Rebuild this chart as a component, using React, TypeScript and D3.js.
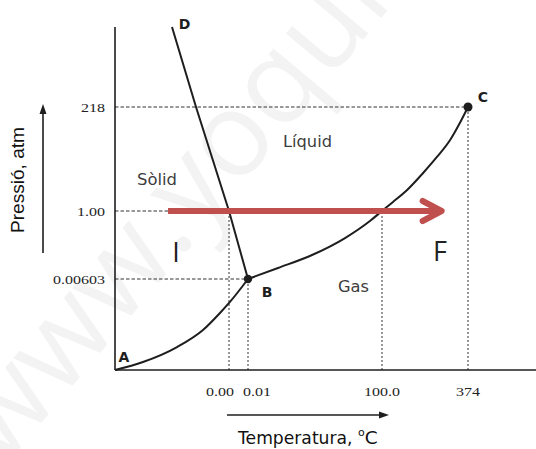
import * as d3 from 'd3';

// Schematic phase diagram of water. Axes are not to scale: each tick gets its
// own segment, so the scales are piecewise linear.
const TEMP_DOMAIN = [-273, 0, 0.01, 100, 374, 500];
const PRES_DOMAIN = [0, 0.00603, 1, 218, 400];

const TEMP_TICKS = [0, 0.01, 100, 374];
const TEMP_LABELS = ['0.00', '0.01', '100.0', '374'];
const PRES_TICKS = [218, 1, 0.00603];
const PRES_LABELS = ['218', '1.00', '0.00603'];

// A -> B (sòlid / gas)
const SUB_T = [-273, -206, -124.5, -62.3, -21.6, 0.0005, 0.01];
const SUB_P = [0, 0.00053, 0.00152, 0.00265, 0.00378, 0.00451, 0.00603];
// B -> C (líquid / gas)
const VAP_T = [0.01, 22.4, 47.8, 72.4, 91, 100, 135, 180, 231, 275, 317, 348, 374];
const VAP_P = [0.00603, 0.167, 0.357, 0.605, 0.854, 1, 19.8, 44.8, 80.3, 113.7, 149.1, 184.6, 218];
// B -> D (sòlid / líquid)
const FUS_T = [0.01, 0, -79, -136.5];
const FUS_P = [0.00603, 1, 218, 400];

const POINT_NAMES = ['A', 'B', 'C', 'D'];
const POINT_T = [-273, 0.01, 374, -136.5];
const POINT_P = [0, 0.00603, 218, 400];

// heating path at 1 atm, from I to F
const PATH_T = [-146, 290];
const PATH_P = 1;

const W = 536;
const H = 449;
const RED = '#C0504D';
const INK = '#1e1e1e';

type Pt = [number, number];

// the scan is a bit wide, so text gets stretched to its measured width
const numWidth = (s: string) => s.replace(/\./g, '').length * 8 + (s.includes('.') ? 4 : 0);

export default function App() {
  const x = d3.scaleLinear().domain(TEMP_DOMAIN).range([115, 229, 248, 382, 468, 536]);
  const y = d3.scaleLinear().domain(PRES_DOMAIN).range([370, 279, 211, 107, 27]);

  const toPts = (ts: number[], ps: number[]): Pt[] => ts.map((t, i) => [x(t), y(ps[i])]);
  const smooth = d3.line<Pt>().curve(d3.curveMonotoneX);
  const straight = d3.line<Pt>();

  // reference lines: each tick runs to where it meets a curve
  const vEnds = [1, 0.00603, 1, 218];
  const hEnds = [374, 100, 0.01];

  const ax = x(PATH_T[0]);
  const bx = x(PATH_T[1]);
  const ay = y(PATH_P);

  const offs: Record<string, Pt> = { A: [9, -8], B: [19, 18], C: [15, -5], D: [12.5, 2] };

  return (
    <svg width={W} height={H} style={{ position: 'absolute', left: 0, top: 0, background: '#fff' }}>
      {/* faint watermark */}
      <text
        x={0} y={0}
        transform="translate(2,470) rotate(-50)"
        fontFamily="'Open Sans', sans-serif" fontSize={118} fill="#f3f3f3"
      >www.yoquiero</text>

      {/* dashed guides */}
      {TEMP_TICKS.map((t, i) => (
        <line key={'v' + i} x1={x(t)} x2={x(t)} y1={y(0)} y2={y(vEnds[i])}
          stroke="#333" strokeWidth={1} strokeDasharray="2,2" />
      ))}
      {PRES_TICKS.map((p, i) => (
        <line key={'h' + i} x1={x(-273)} x2={x(hEnds[i])} y1={y(p)} y2={y(p)}
          stroke="#333" strokeWidth={1} strokeDasharray="3.5,2" />
      ))}

      {/* axes */}
      <line x1={x(-273)} x2={x(-273)} y1={y(0)} y2={y(400)} stroke={INK} strokeWidth={1.6} />
      <line x1={x(-273)} x2={x(500)} y1={y(0)} y2={y(0)} stroke={INK} strokeWidth={1.6} />

      {/* tick labels */}
      {PRES_TICKS.map((p, i) => (
        <text key={'pl' + i} x={105} y={y(p) + 4.5} textAnchor="end"
          textLength={numWidth(PRES_LABELS[i])} lengthAdjust="spacingAndGlyphs"
          fontFamily="'Liberation Serif', serif" fontSize={13} fill="#222">{PRES_LABELS[i]}</text>
      ))}
      {TEMP_TICKS.map((t, i) => {
        const anchor = i === 0 ? 'end' : i === 1 ? 'start' : 'middle';
        const dx = i === 0 ? 5 : i === 1 ? -5 : 0;
        return (
          <text key={'tl' + i} x={x(t) + dx} y={396} textAnchor={anchor}
            textLength={numWidth(TEMP_LABELS[i])} lengthAdjust="spacingAndGlyphs"
            fontFamily="'Liberation Serif', serif" fontSize={13} fill="#222">{TEMP_LABELS[i]}</text>
        );
      })}

      {/* phase boundaries */}
      <path d={smooth(toPts(SUB_T, SUB_P)) ?? ''} fill="none" stroke={INK} strokeWidth={2} />
      <path d={smooth(toPts(VAP_T, VAP_P)) ?? ''} fill="none" stroke={INK} strokeWidth={2} />
      <path d={straight(toPts(FUS_T, FUS_P)) ?? ''} fill="none" stroke={INK} strokeWidth={2} />

      <circle cx={x(POINT_T[1])} cy={y(POINT_P[1])} r={4.2} fill={INK} />
      <circle cx={x(POINT_T[2])} cy={y(POINT_P[2])} r={4.5} fill={INK} />

      {POINT_NAMES.map((n, i) => (
        <text key={n} x={x(POINT_T[i]) + offs[n][0]} y={y(POINT_P[i]) + offs[n][1]} textAnchor="middle"
          fontFamily="'DejaVu Sans', sans-serif" fontWeight="bold" fontSize={14} fill={INK}>{n}</text>
      ))}

      {/* region names */}
      <g fontFamily="'DejaVu Sans', sans-serif" fontSize={16.5} fill="#3c3c3c">
        <text x={137} y={185} textLength={40} lengthAdjust="spacingAndGlyphs">Sòlid</text>
        <text x={283} y={147} textLength={49} lengthAdjust="spacingAndGlyphs">Líquid</text>
        <text x={338} y={292} textLength={31} lengthAdjust="spacingAndGlyphs">Gas</text>
      </g>
      <g fontFamily="'Open Sans', sans-serif" fontSize={27} fill="#222">
        <text x={176} y={262} textAnchor="middle">I</text>
        <text x={440} y={261} textAnchor="middle">F</text>
      </g>

      {/* heating path */}
      <line x1={ax} x2={bx - 2} y1={ay} y2={ay} stroke={RED} strokeWidth={6} />
      <polyline points={`${bx - 19},${ay - 10} ${bx},${ay} ${bx - 19},${ay + 10}`}
        fill="none" stroke={RED} strokeWidth={6} strokeLinejoin="round" strokeLinecap="round" />

      {/* axis titles with arrows */}
      <line x1={43} x2={43} y1={253} y2={112} stroke={INK} strokeWidth={1.6} />
      <path d="M43,104 L39.5,114 L46.5,114 Z" fill={INK} />
      <text transform="translate(24,180) rotate(-90)" textAnchor="middle"
        textLength={106} lengthAdjust="spacingAndGlyphs"
        fontFamily="'Liberation Sans', sans-serif" fontSize={19} fill="#111">Pressió, atm</text>

      <line x1={227} x2={380} y1={415} y2={415} stroke={INK} strokeWidth={1.6} />
      <path d="M389,415 L379,411.5 L379,418.5 Z" fill={INK} />
      <text x={238} y={444} fontFamily="'DejaVu Sans', sans-serif" fontSize={18.5} fill="#111">
        <tspan textLength={120} lengthAdjust="spacingAndGlyphs">Temperatura, </tspan>
        <tspan fontSize={11} dy={-8}>o</tspan>
        <tspan dy={8}>C</tspan>
      </text>
    </svg>
  );
}
